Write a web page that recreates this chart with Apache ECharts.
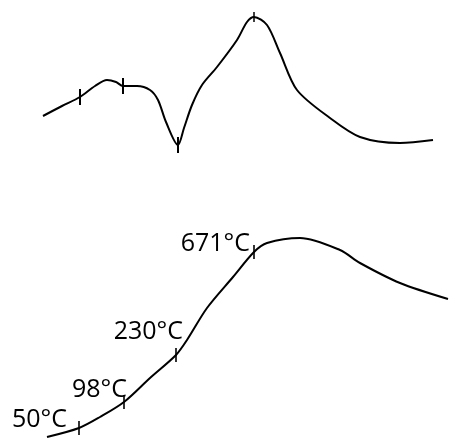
<!DOCTYPE html>
<html><head><meta charset="utf-8">
<style>html,body{margin:0;padding:0;background:#fff}#c{width:449px;height:440px}</style>
<script src="https://cdn.jsdelivr.net/npm/echarts@6/dist/echarts.min.js"></script>
</head><body><div id="c"></div>
<script>
// Upper curve (DTA-like), arbitrary units
const upperX = [43, 62, 80, 95, 107, 116, 123, 137, 150, 158, 166, 178, 184, 192, 202, 217, 237, 247, 254, 267, 280, 297, 330, 360, 400, 433];
const upperY = [116, 106, 97, 86, 80, 82, 86, 86, 90, 100, 122, 145, 128, 105, 85, 67, 40, 22, 17, 25, 53, 90, 118, 137, 143, 140];
const upperMarksX = [80, 123, 178, 254];
const upperMarksY = [97, 86, 145, 17];
// Lower curve (TG-like), arbitrary units
const lowerX = [47, 79, 100, 124, 150, 176, 187, 207, 233, 254, 267, 300, 340, 360, 400, 448];
const lowerY = [437, 428, 417, 402, 378, 355, 340, 308, 277, 252, 243, 238, 250, 263, 283, 299];
const lowerMarksX = [79, 124, 176, 254];
const lowerMarksY = [428, 402, 355, 252];
const lowerMarkLabels = ['50°C', '98°C', '230°C', '671°C'];
// label nudges (style only)
const labelNudge = [[-12, 4], [3, 0], [7, -11], [-4, 4]];

const zip = (a, b) => a.map((v, i) => [v, b[i]]);
const chart = echarts.init(document.getElementById('c'));
chart.setOption({
  animation: false,
  grid: {left: 0, right: 0, top: 0, bottom: 0},
  xAxis: {type: 'value', min: 0, max: 449, show: false},
  yAxis: {type: 'value', min: 0, max: 440, inverse: true, show: false},
  series: [
    {type: 'line', data: zip(upperX, upperY), smooth: 0.3, showSymbol: false,
     lineStyle: {color: '#000', width: 2}},
    {type: 'line', data: zip(lowerX, lowerY), smooth: 0.3, showSymbol: false,
     lineStyle: {color: '#000', width: 2}},
    {type: 'scatter', symbol: 'rect',
     data: zip(upperMarksX, upperMarksY).map((p, i) => ({value: p, symbolSize: i === 3 ? [1.5, 10] : [2, 16]})),
     itemStyle: {color: '#000', opacity: 1}},
    {type: 'scatter', symbol: 'rect', symbolSize: [1.6, 14],
     data: zip(lowerMarksX, lowerMarksY).map((p, i) => ({
       value: p,
       label: {show: true, formatter: lowerMarkLabels[i], position: 'inside', align: 'right', verticalAlign: 'bottom',
               offset: labelNudge[i], color: '#000', opacity: 1, fontSize: 25, fontFamily: 'Open Sans'}
     })),
     itemStyle: {color: '#000', opacity: 1}}
  ]
});
</script></body></html>
